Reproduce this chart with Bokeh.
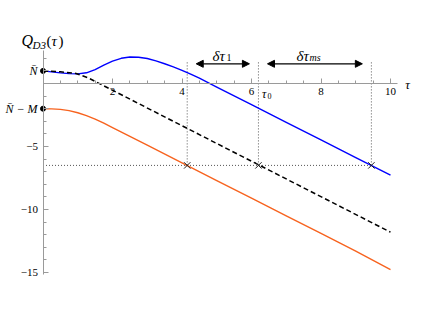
from bokeh.plotting import figure
from bokeh.models import FixedTicker, Arrow, NormalHead, Range1d
from bokeh.core.properties import value
from bokeh.embed import file_html
from bokeh.resources import INLINE

# ---- data ----
tau_blue = [0, 0.25, 0.5, 0.75, 1.0, 1.25, 1.5, 1.75, 2.0, 2.25, 2.5, 2.75, 3.0,
            3.25, 3.5, 3.75, 4.0, 4.25, 4.5, 5, 6, 7, 8, 9, 10]
q_blue = [1.0, 0.92, 0.84, 0.78, 0.76, 0.85, 1.1, 1.45, 1.78, 2.0, 2.1, 2.08, 1.98,
          1.8, 1.57, 1.32, 1.04, 0.74, 0.42, -0.28, -1.68, -3.08, -4.48, -5.88, -7.28]
tau_dash = [0, 0.5, 0.95, 1.3, 10]
q_dash = [1.0, 0.93, 0.8, 0.45, -11.8]
tau_orange = [0, 0.25, 0.5, 0.75, 1.0, 1.25, 1.5, 1.75, 2.0, 3, 4, 5, 6, 7, 8, 9, 10]
q_orange = [-2.0, -2.01, -2.05, -2.15, -2.32, -2.55, -2.82, -3.15, -3.5, -4.9, -6.3,
            -7.7, -9.1, -10.5, -11.9, -13.3, -14.78]
N_bar = 1.0
M = 3.0
q_level = -6.5
tau_cross = [4.15, 6.2, 9.45]
x_ticks = [2, 4, 6, 8, 10]
x_minor = [0.5 * i for i in range(1, 21)]
y_ticks = [N_bar, N_bar - M, -5, -10, -15]
y_minor = list(range(-15, 3))
y_tick_labels = {-5: "\u22125", -10: "\u221210", -15: "\u221215"}

# ---- layout ----
W, H = 421, 328
SX, SY = 34.75, 12.6
OX, OY = 42.5, 83.0  # page px of origin


def dx(px):
    return (px - OX) / SX


def dy(py):
    return (OY - py) / SY


x_start = dx(0)
x_end = x_start + W / SX
y_end = dy(0)
y_start = y_end - H / SY

p = figure(width=W, height=H, x_range=Range1d(x_start, x_end),
           y_range=Range1d(y_start, y_end), output_backend="svg",
           toolbar_location=None, min_border=0)
p.grid.visible = False
p.outline_line_color = None
p.background_fill_color = "white"

AX = "#9a9a9a"
for ax in (p.xaxis[0], p.yaxis[0]):
    ax.fixed_location = 0
    ax.axis_line_color = AX
    ax.major_tick_line_color = AX
    ax.minor_tick_line_color = AX
    ax.major_tick_out = 0
    ax.minor_tick_out = 0
    ax.major_tick_in = 5
    ax.minor_tick_in = 3
    ax.major_label_text_font = "Liberation Serif"
    ax.major_label_text_font_size = "11px"
    ax.major_label_text_color = "black"

p.xaxis.ticker = FixedTicker(ticks=x_ticks, minor_ticks=x_minor)
p.xaxis.bounds = (0, 10.2)
p.xaxis.major_label_standoff = 4
p.yaxis.ticker = FixedTicker(ticks=y_ticks, minor_ticks=y_minor)
overrides = {N_bar: "", N_bar - M: ""}
overrides.update(y_tick_labels)
p.yaxis.major_label_overrides = overrides
p.yaxis.bounds = (-15.15, 2.6)
p.yaxis.major_label_standoff = 5

# dotted guides
v_top = 1.7
p.segment(x0=tau_cross, y0=[q_level] * 3, x1=tau_cross, y1=[v_top] * 3,
          line_color="#555555", line_dash="1 2", line_width=1)
p.line([0, max(tau_cross)], [q_level, q_level], line_color="#555555",
       line_dash="1 2", line_width=1)

# curves
p.line(tau_orange, q_orange, line_color="#f7631f", line_width=1.4)
p.line(tau_blue, q_blue, line_color="#0000ff", line_width=1.4)
p.line(tau_dash, q_dash, line_color="black", line_width=1.5, line_dash="5 3")

# crosses & dots
p.scatter(tau_cross, [q_level] * 3, marker="x", size=9, line_color="#222222",
          line_width=1)
p.scatter([0, 0], [N_bar, N_bar - M], marker="circle", size=5,
          fill_color="black", line_color="black")

# arrows
ay = dy(63.3)
ins = 0.26
for a, b in [(tau_cross[0], tau_cross[1]), (tau_cross[1], tau_cross[2])]:
    p.add_layout(Arrow(x_start=a + ins, y_start=ay, x_end=b - ins, y_end=ay,
                       line_color="black", line_width=1.3,
                       start=NormalHead(size=7, fill_color="black", line_color="black"),
                       end=NormalHead(size=7, fill_color="black", line_color="black")))

F = value("Liberation Serif")


def txt(xs, ys, ts, size, align="left", style="italic", baseline="alphabetic"):
    p.text(x=xs, y=ys, text=ts, text_font=F, text_font_style=style,
           text_font_size=size, text_align=align, text_baseline=baseline,
           text_color="black")


# title Q_D3(tau)
txt([dx(21)], [dy(40)], ["Q"], "16px")
txt([dx(32)], [dy(44)], ["D3"], "11px")
txt([dx(46)], [dy(40)], ["("], "15px", style="normal")
txt([dx(51)], [dy(40)], ["\u03c4"], "15px")
txt([dx(58)], [dy(40)], [")"], "15px", style="normal")

# y labels
txt([dx(37)], [N_bar], ["N\u0304"], "12px", align="right", baseline="middle")
txt([dx(37)], [N_bar - M], ["N\u0304 \u2212 M"], "12px", align="right", baseline="middle")

# tau axis label and tau0
txt([dx(407)], [dy(84)], ["\u03c4"], "13px", align="center", baseline="middle")
txt([dx(261.5)], [dy(93)], ["\u03c4"], "12px")
txt([dx(267)], [dy(95)], ["0"], "8px", style="normal")

# delta tau labels
txt([dx(212)], [dy(55)], ["\u03b4\u03c4"], "15px")
txt([dx(226)], [dy(57)], ["1"], "10px", style="normal")
txt([dx(296)], [dy(55)], ["\u03b4\u03c4"], "15px")
txt([dx(309)], [dy(57)], ["ms"], "10px")

open("out.html", "w").write(file_html(p, INLINE))
